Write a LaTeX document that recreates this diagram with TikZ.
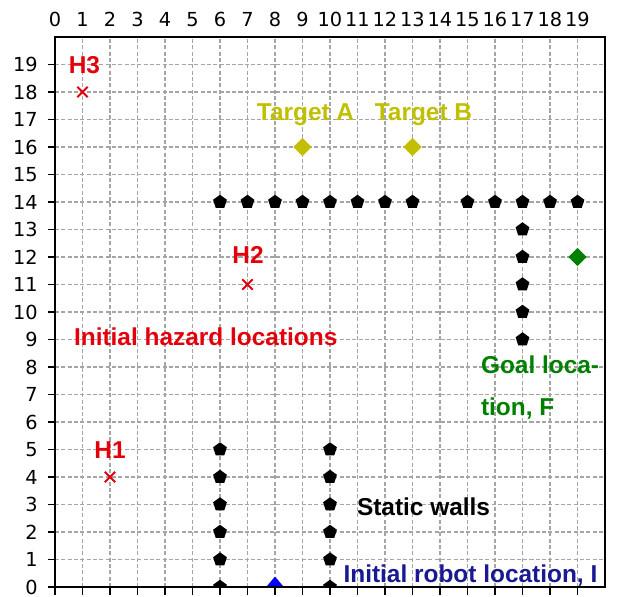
\documentclass[tikz,border=0pt]{standalone}
\usepackage{fontspec}
\setmainfont{Liberation Sans}
\newfontfamily\tickfont{DejaVu Sans}
\usetikzlibrary{shapes.geometric,shapes.misc}
\definecolor{hazred}{RGB}{228,0,10}
\definecolor{targety}{RGB}{192,192,0}
\definecolor{goalg}{RGB}{0,128,0}
\definecolor{robotb}{RGB}{25,25,145}
\definecolor{gridgray}{RGB}{165,165,165}
\begin{document}
\begin{tikzpicture}[x=0.55cm,y=0.55cm,
  gridline/.style={draw=gridgray, line width=0.6pt, dash pattern=on 2.3pt off 1.3pt},
  spine/.style={line width=1pt, black},
  tickline/.style={line width=0.8pt, black},
  ticklab/.style={font=\tickfont\fontsize{11}{13}\selectfont, inner sep=0pt},
  wall/.style={regular polygon, regular polygon sides=5, fill=black, inner sep=0pt, minimum size=0.29cm},
  hazard/.style={cross out, draw=hazred, line width=1.1pt, inner sep=0pt, minimum size=0.17cm},
  target/.style={diamond, fill=targety, inner sep=0pt, minimum width=0.37cm, minimum height=0.37cm},
  goal/.style={diamond, fill=goalg, inner sep=0pt, minimum width=0.37cm, minimum height=0.37cm},
  robotfill/.style={fill=blue},
  note/.style={font=\bfseries\fontsize{13.9}{16}\selectfont, inner sep=0pt}]
\useasboundingbox (-2,-0.3455) rectangle (20.5455,21.3455);
% grid
\foreach \i in {1,...,19} {
  \draw[gridline] (\i,0) -- (\i,20);
  \draw[gridline] (0,\i) -- (20,\i);
}
% markers (clipped to axes)
\begin{scope}
\clip (0,0) rectangle (20,20);
\foreach \x in {6,...,13,15,16,17,18,19} \node[wall] (wt\x) at (\x,14) {};
\foreach \y in {9,...,13} \node[wall] (wv\y) at (17,\y) {};
\foreach \y in {0,...,5} {
  \node[wall] (wl\y) at (6,\y) {};
  \node[wall] (wr\y) at (10,\y) {};
}
\node[target] (ta) at (9,16) {};
\node[target] (tb) at (13,16) {};
\node[goal] (gf) at (19,12) {};
\coordinate (ri) at (8,0);
\fill[robotfill] ([shift={(0,0.21cm)}]ri) -- ([shift={(-0.26cm,-0.1cm)}]ri) -- ([shift={(0.26cm,-0.1cm)}]ri) -- cycle;
\node[hazard] (h1) at (2,4) {};
\node[hazard] (h2) at (7,11) {};
\node[hazard] (h3) at (1,18) {};
\end{scope}
% axes
\draw[spine] (0,0) rectangle (20,20);
\foreach \i in {0,...,19} {
  \draw[tickline] (\i,0) -- (\i,-0.3);
  \draw[tickline] (0,\i) -- (-0.26,\i);
  \node[ticklab] (xl\i) at (\i,20.64) {\i};
  \node[ticklab, anchor=east] (yl\i) at (-0.62,\i) {\i};
}
% labels
\node[note, text=hazred, anchor=base] (lh3) at (1.07,18.69) {H3};
\node[note, text=hazred, anchor=base] (lh2) at (7.02,11.76) {H2};
\node[note, text=hazred, anchor=base] (lh1) at (2.0,4.68) {H1};
\node[note, text=hazred, anchor=base west] (lhaz) at (0.68,8.78) {Initial hazard locations};
\node[note, text=targety, anchor=base] (lta) at (9.11,16.95) {Target A};
\node[note, text=targety, anchor=base] (ltb) at (13.4,16.95) {Target B};
\node[note, text=goalg, anchor=base west] (lg1) at (15.48,7.77) {Goal loca-};
\node[note, text=goalg, anchor=base west] (lg2) at (15.48,6.24) {tion, F};
\node[note, text=black, anchor=base west] (lsw) at (10.97,2.61) {Static walls};
\node[note, text=robotb, anchor=base west] (lri) at (10.48,0.18) {Initial robot location, I};
\end{tikzpicture}
\end{document}
